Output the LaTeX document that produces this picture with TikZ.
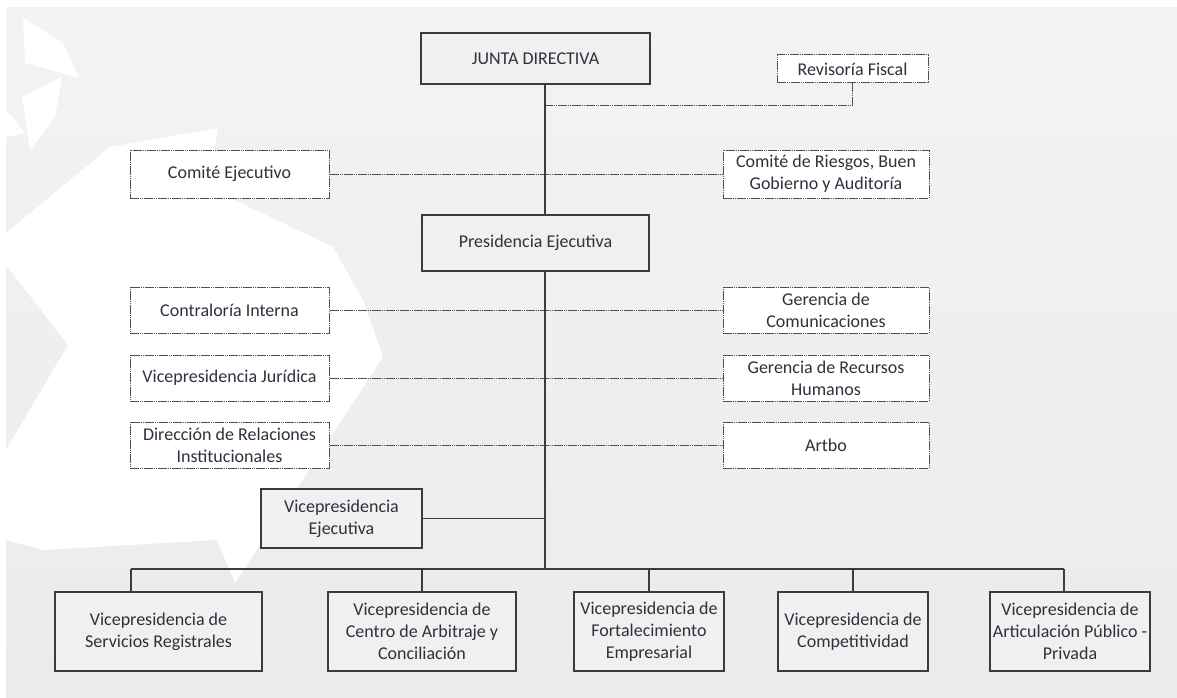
\documentclass[tikz,border=0pt]{standalone}
\usepackage{fontspec}
\setmainfont{Carlito}
\definecolor{bgtop}{HTML}{F3F3F3}
\definecolor{bgbot}{HTML}{EBEBEB}
\definecolor{boxfill}{HTML}{F0F0F0}
\definecolor{ln}{HTML}{3C3C3C}
\definecolor{dl}{HTML}{505050}
\definecolor{txt}{HTML}{30303E}
\tikzset{
  base/.style={font=\fontsize{18}{22}\selectfont, text=txt, align=center, inner sep=0pt},
  solidbox/.style={base, draw=ln, line width=1.6pt, fill=boxfill},
  dotbox/.style={base, draw=dl, line width=1pt, fill=white,
     dash pattern=on 9pt off 1pt on 1pt off 1pt on 1pt off 1pt},
  conn/.style={draw=ln, line width=1.6pt},
  dconn/.style={draw=dl, line width=1pt,
     dash pattern=on 9pt off 1pt on 1pt off 1pt on 1pt off 1pt},
}
\begin{document}
\begin{tikzpicture}[x=1pt, y=-1pt]
\useasboundingbox (0,0) rectangle (1177,698);
\fill[white] (0,0) rectangle (1177,698);
\shade[top color=bgtop, bottom color=bgbot] (6,8) rectangle (1177,698);
% background star facets
\fill[white] (23,18) -- (63,43) -- (79,78) -- (25,63) -- cycle;
\fill[white] (22,97) -- (62,77) -- (55,117) -- (30,150) -- cycle;
\fill[white] (6,110) -- (25,133) -- (6,137) -- cycle;
\fill[white] (218,128) -- (110,147) -- (6,233) -- (6,265) -- (68,345) -- (6,450)
  -- (6,540) -- (43,550) -- (217,540) -- (235,583) -- (383,357) -- (363,300)
  -- (333,247) -- (207,187) -- cycle;

% nodes
\node[solidbox, minimum width=229pt, minimum height=51pt] (junta) at (535.5,58.5) {JUNTA DIRECTIVA};
\node[dotbox, minimum width=151pt, minimum height=28pt] (rev) at (852.5,69) {Revisoría Fiscal};
\node[dotbox, minimum width=199pt, minimum height=48pt] (ce) at (229.5,174) {Comité Ejecutivo};
\node[dotbox, minimum width=206pt, minimum height=48pt] (cr) at (826,174) {Comité de Riesgos, Buen\\Gobierno y Auditoría};
\node[solidbox, minimum width=227pt, minimum height=56pt] (pres) at (535.5,243) {Presidencia Ejecutiva};
\node[dotbox, minimum width=199pt, minimum height=46pt] (ci) at (229.5,310) {Contraloría Interna};
\node[dotbox, minimum width=206pt, minimum height=46pt] (gc) at (826,310) {Gerencia de\\Comunicaciones};
\node[dotbox, minimum width=199pt, minimum height=46pt] (vj) at (229.5,378) {Vicepresidencia Jurídica};
\node[dotbox, minimum width=206pt, minimum height=46pt] (rh) at (826,378) {Gerencia de Recursos\\Humanos};
\node[dotbox, minimum width=199pt, minimum height=46pt] (dr) at (229.5,445) {Dirección de Relaciones\\Institucionales};
\node[dotbox, minimum width=206pt, minimum height=46pt] (ar) at (826,445) {Artbo};
\node[solidbox, minimum width=161pt, minimum height=59pt] (ve) at (341.5,518.5) {Vicepresidencia\\Ejecutiva};
\node[solidbox, minimum width=207pt, minimum height=79pt] (b1) at (158.5,631.5) {Vicepresidencia de\\Servicios Registrales};
\node[solidbox, minimum width=188pt, minimum height=79pt] (b2) at (422,631.5) {Vicepresidencia de\\Centro de Arbitraje y\\Conciliación};
\node[solidbox, minimum width=150pt, minimum height=79pt] (b3) at (649,631.5) {Vicepresidencia de\\Fortalecimiento\\Empresarial};
\node[solidbox, minimum width=150pt, minimum height=79pt] (b4) at (853,631.5) {Vicepresidencia de\\Competitividad};
\node[solidbox, minimum width=160pt, minimum height=79pt] (b5) at (1070,631.5) {Vicepresidencia de\\Articulación Público -\\Privada};

% helper coordinates
\coordinate (spine) at (545,0);
\coordinate (revj) at (545,106);
\coordinate (bus) at (545,569);
\coordinate (d1) at (131,569);
\coordinate (d5) at (1064,569);

% dotted connectors
\draw[dconn] (rev.south) |- (revj);
\draw[dconn] (ce.east) -- (cr.west);
\draw[dconn] (ci.east) -- (gc.west);
\draw[dconn] (vj.east) -- (rh.west);
\draw[dconn] (dr.east) -- (ar.west);

% solid connectors
\draw[conn] (junta.south -| spine) -- (pres.north -| spine);
\draw[conn] (pres.south -| spine) -- (bus);
\draw[conn] (ve.east) -- (ve.east -| spine);
\draw[conn] (d1) -- (d5);
\draw[conn] (d1) -- (d1 |- b1.north);
\draw[conn] (b2.north |- bus) -- (b2.north);
\draw[conn] (b3.north |- bus) -- (b3.north);
\draw[conn] (b4.north |- bus) -- (b4.north);
\draw[conn] (d5) -- (d5 |- b5.north);
\end{tikzpicture}
\end{document}
